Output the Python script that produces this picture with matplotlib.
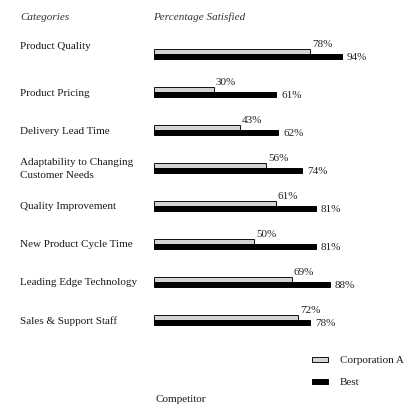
import matplotlib.pyplot as plt
from matplotlib.transforms import blended_transform_factory
from matplotlib.patches import Rectangle

# data
categories = ['Product Quality', 'Product Pricing', 'Delivery Lead Time',
              'Adaptability to Changing\nCustomer Needs', 'Quality Improvement',
              'New Product Cycle Time', 'Leading Edge Technology',
              'Sales & Support Staff']
corp_a = [78, 30, 43, 56, 61, 50, 69, 72]
best = [94, 61, 62, 74, 81, 81, 88, 78]

plt.rcParams['font.family'] = ['Liberation Serif', 'DejaVu Serif']
fs = 8
light = '#d4d4d4'
W, H = 409, 406

fig = plt.figure(figsize=(W / 100, H / 100), dpi=100)
fig.patch.set_facecolor('white')

# bar axes: 100% ~ 200 px, rows ~38 px apart
ax = fig.add_axes([154 / W, 1 - 340 / H, 200 / W, 304 / H])
ax.set_xlim(0, 100)
ax.set_ylim(7.5, -0.5)
ax.axis('off')

bh = 0.14
ys = list(range(len(categories)))
ax.barh([y - bh / 2 for y in ys], corp_a, height=bh, color=light,
        edgecolor='#111111', linewidth=0.7, align='center')
ax.barh([y + bh / 2 for y in ys], best, height=bh, color='black',
        edgecolor='black', linewidth=0.7, align='center')

for y, a, b in zip(ys, corp_a, best):
    ax.text(a + 1, y - bh - 0.03, f'{a}%', fontsize=fs, ha='left', va='bottom',
            color='#222222')
    ax.text(b + 2.5, y + bh / 2, f'{b}%', fontsize=fs, ha='left', va='center',
            color='#222222')

# category labels on the left
tr = blended_transform_factory(fig.transFigure, ax.transData)
for i, (y, c) in enumerate(zip(ys, categories)):
    yy = y - 0.22 if i == 0 else y
    ax.text(20 / W, yy, c, fontsize=fs, ha='left', va='center',
            transform=tr, linespacing=1.5, color='#1a1a1a')

fig.text(20 / W, 1 - 17 / H, 'Categories', fontsize=fs, style='italic',
         va='center', color='#333333')
fig.text(153 / W, 1 - 17 / H, 'Percentage Satisfied', fontsize=fs,
         style='italic', va='center', color='#333333')

# legend
fig.patches.append(Rectangle((312 / W, 1 - 363 / H), 16 / W, 5 / H,
                             facecolor=light, edgecolor='#111111', lw=0.7,
                             transform=fig.transFigure))
fig.patches.append(Rectangle((312 / W, 1 - 385 / H), 16 / W, 5 / H,
                             facecolor='black', edgecolor='black', lw=0.7,
                             transform=fig.transFigure))
fig.text(340 / W, 1 - 361 / H, 'Corporation A', fontsize=fs, va='center',
         color='#1a1a1a')
fig.text(340 / W, 1 - 383 / H, 'Best', fontsize=fs, va='center',
         color='#1a1a1a')
fig.text(155 / W, 1 - 400 / H, 'Competitor', fontsize=fs, va='center',
         color='#1a1a1a')

fig.savefig('out.png', dpi=100, facecolor='white')
